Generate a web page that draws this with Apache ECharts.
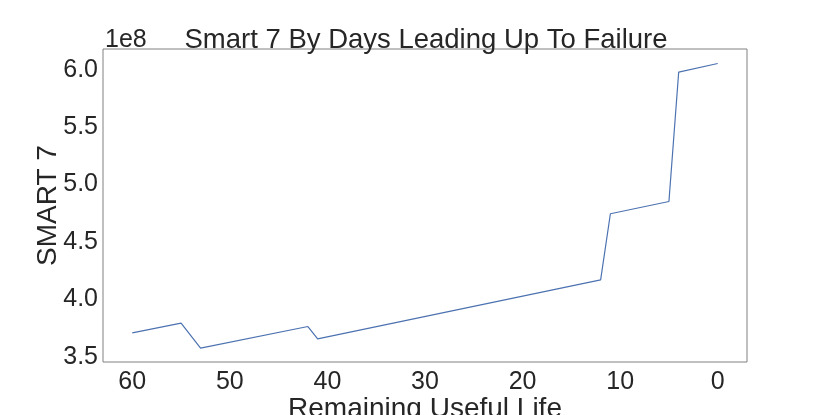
<!DOCTYPE html>
<html>
<head>
<meta charset="utf-8">
<script src="https://cdn.jsdelivr.net/npm/echarts@6/dist/echarts.min.js"></script>
<style>html,body{margin:0;padding:0;background:#fff}#c{width:830px;height:415px}</style>
</head>
<body>
<div id="c"></div>
<script>
// Remaining useful life (days) and SMART 7 raw values
const days = [60, 55, 53, 42, 41, 12, 11, 5, 4, 0];
const smart7 = [3.709e8, 3.794e8, 3.576e8, 3.764e8, 3.657e8, 4.171e8, 4.746e8, 4.853e8, 5.980e8, 6.055e8];
const xTicks = [0, 10, 20, 30, 40, 50, 60];
const yTicks = [3.5e8, 4.0e8, 4.5e8, 5.0e8, 5.5e8, 6.0e8];

const FONT = 'Liberation Sans';
const TXT = '#262626';
const chart = echarts.init(document.getElementById('c'), null, {renderer: 'canvas'});
chart.setOption({
  animation: false,
  backgroundColor: '#fff',
  title: {
    text: 'Smart 7 By Days Leading Up To Failure',
    left: 421, top: 21, textAlign: 'center',
    textStyle: {fontFamily: FONT, fontSize: 27.5, fontWeight: 'normal', color: TXT}
  },
  grid: {left: 103, right: 83, top: 49, bottom: 53, show: true, borderColor: '#808080', borderWidth: 1,
    backgroundColor: 'transparent', outerBoundsMode: 'none', containLabel: false},
  xAxis: {
    type: 'value', inverse: true, min: -3, max: 63,
    name: 'Remaining Useful Life', nameLocation: 'middle', nameGap: 33, nameMoveOverlap: false,
    nameTextStyle: {fontFamily: FONT, fontSize: 28, color: TXT},
    axisLine: {show: false}, axisTick: {show: false}, splitLine: {show: false},
    axisLabel: {customValues: xTicks, fontFamily: FONT, fontSize: 25, color: TXT, margin: 8}
  },
  yAxis: {
    type: 'value', min: 3.455e8, max: 6.181e8,
    name: 'SMART 7', nameLocation: 'middle', nameGap: 41, nameMoveOverlap: false,
    nameTextStyle: {fontFamily: FONT, fontSize: 28, color: TXT},
    axisLine: {show: false}, axisTick: {show: false}, splitLine: {show: false},
    axisLabel: {customValues: yTicks, fontFamily: FONT, fontSize: 25, color: TXT, margin: 5,
      formatter: v => (v / 1e8).toFixed(1)}
  },
  graphic: [{
    type: 'text', left: 105, top: 28,
    style: {text: '1e8', font: '25px "Liberation Sans"', fill: TXT}
  }],
  series: [{
    type: 'line', showSymbol: false, symbol: 'none',
    data: days.map((d, i) => [d, smart7[i]]),
    lineStyle: {color: '#4c72b0', width: 1.2}
  }]
});
</script>
</body>
</html>
